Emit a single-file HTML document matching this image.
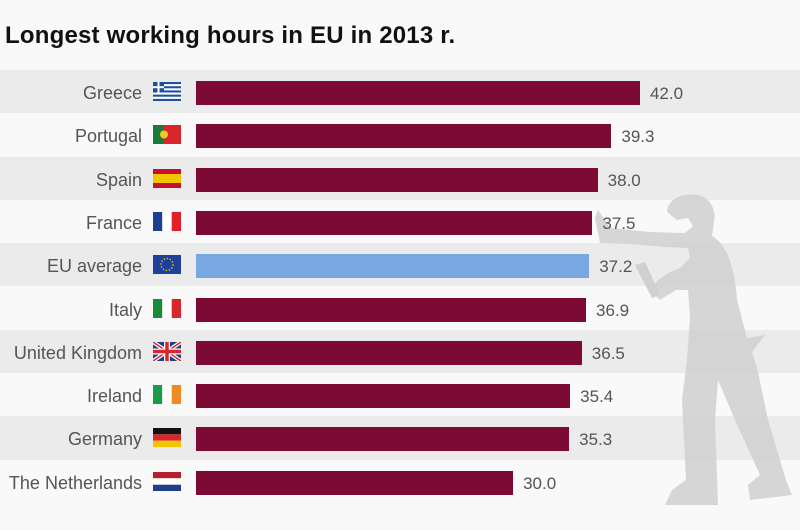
<!DOCTYPE html>
<html><head><style>
body{margin:0;width:800px;height:530px;background:#f9f9f9;font-family:"Liberation Sans",sans-serif;position:relative;overflow:hidden}
.t{position:absolute;left:5px;top:22px;font-size:24px;font-weight:bold;color:#111;letter-spacing:0.2px}
.band{position:absolute;left:0;width:800px;height:43.3px}
.lab{position:absolute;right:658px;font-size:18px;color:#555;line-height:20px}
.bar{position:absolute;left:196px;height:24px;background:#7c0a35}
.val{position:absolute;font-size:17px;color:#555;line-height:20px}
.flag{position:absolute;left:153px;width:28px;height:19px}
</style></head><body>
<div class="t">Longest working hours in EU in 2013 r.</div>
<div id="c"></div>
<svg style="position:absolute;left:0;top:0" width="800" height="530">
<path fill="#d0d0d0" fill-opacity="0.85" d="M667,212 C668,197 685,193 698,195 C712,198 716,212 714,222 L712,236 C728,245 735,270 737,300 L747,338 L765,335 L752,352 L758,372 L768,420 L786,480 L792,495 L750,500 L748,485 L760,475 L735,420 L718,380 L715,420 L718,505 L665,505 L672,490 L686,480 L682,400 L687,360 L690,318 L688,290 L676,290 L660,300 L650,290 L658,280 L670,272 L680,268 L690,258 L688,248 L665,247 L630,244 L600,243 L595,218 L598,210 L610,228 L650,232 L685,233 L693,226 L688,218 L677,220 Z"/>
<path fill="#d0d0d0" d="M635,265 L645,262 L660,295 L652,298 Z"/>
</svg>
<script>
var d=[["Greece",42.0],["Portugal",39.3],["Spain",38.0],["France",37.5],["EU average",37.2],["Italy",36.9],["United Kingdom",36.5],["Ireland",35.4],["Germany",35.3],["The Netherlands",30.0]];
var fl={
"Greece":'<rect width="28" height="19" fill="#fff"/><g fill="#1f4fa0"><rect y="0" width="28" height="2.1"/><rect y="4.2" width="28" height="2.1"/><rect y="8.4" width="28" height="2.1"/><rect y="12.6" width="28" height="2.1"/><rect y="16.9" width="28" height="2.1"/><rect width="11" height="10.5"/></g><rect x="4.5" width="2" height="10.5" fill="#fff"/><rect y="4.2" width="11" height="2" fill="#fff"/>',
"Portugal":'<rect width="11" height="19" fill="#1a7a3a"/><rect x="11" width="17" height="19" fill="#d8262b"/><circle cx="11" cy="9.5" r="4" fill="#f3c623"/>',
"Spain":'<rect width="28" height="19" fill="#c8102e"/><rect y="5" width="28" height="9" fill="#f5c400"/>',
"France":'<rect width="9.3" height="19" fill="#1c3f94"/><rect x="9.3" width="9.4" height="19" fill="#fff"/><rect x="18.7" width="9.3" height="19" fill="#e1202c"/>',
"EU average":'<rect width="28" height="19" fill="#1f3f99"/><circle cx="14" cy="9.5" r="6" fill="none" stroke="#f5d400" stroke-width="1.3" stroke-dasharray="1.3 1.8"/>',
"Italy":'<rect width="9.3" height="19" fill="#1a8a3a"/><rect x="9.3" width="9.4" height="19" fill="#fff"/><rect x="18.7" width="9.3" height="19" fill="#d8262b"/>',
"United Kingdom":'<rect width="28" height="19" fill="#1f3f8a"/><path d="M0,0L28,19M28,0L0,19" stroke="#fff" stroke-width="4"/><path d="M0,0L28,19M28,0L0,19" stroke="#d8262b" stroke-width="1.5"/><path d="M14,0V19M0,9.5H28" stroke="#fff" stroke-width="6"/><path d="M14,0V19M0,9.5H28" stroke="#d8262b" stroke-width="3.5"/>',
"Ireland":'<rect width="9.3" height="19" fill="#1a9a4a"/><rect x="9.3" width="9.4" height="19" fill="#fff"/><rect x="18.7" width="9.3" height="19" fill="#f08a24"/>',
"Germany":'<rect width="28" height="6.3" fill="#111"/><rect y="6.3" width="28" height="6.4" fill="#d8262b"/><rect y="12.7" width="28" height="6.3" fill="#f5c400"/>',
"The Netherlands":'<rect width="28" height="6.3" fill="#b5202c"/><rect y="6.3" width="28" height="6.4" fill="#fff"/><rect y="12.7" width="28" height="6.3" fill="#1f3f8a"/>'};
var h="";
d.forEach(function(r,i){var t=70+43.3*i;
h+='<div class="band" style="top:'+t+'px;background:'+(i%2==0?'#ebebeb':'#f9f9f9')+'"></div>';});
document.getElementById("c").insertAdjacentHTML("beforeend",h);h="";
d.forEach(function(r,i){var t=70+43.3*i,w=r[1]*10.57;
h+='<div class="lab" style="top:'+(t+13)+'px">'+r[0]+'</div>';
h+='<svg class="flag" style="top:'+(t+12)+'px" viewBox="0 0 28 19">'+fl[r[0]]+'</svg>';
h+='<div class="bar" style="top:'+(t+11)+'px;width:'+w+'px;background:'+(r[0]=="EU average"?'#78a7e2':'#7c0a35')+'"></div>';
h+='<div class="val" style="top:'+(t+14)+'px;left:'+(196+w+10)+'px">'+r[1].toFixed(1)+'</div>';});
document.body.insertAdjacentHTML("beforeend",h);
</script>
</body></html>
